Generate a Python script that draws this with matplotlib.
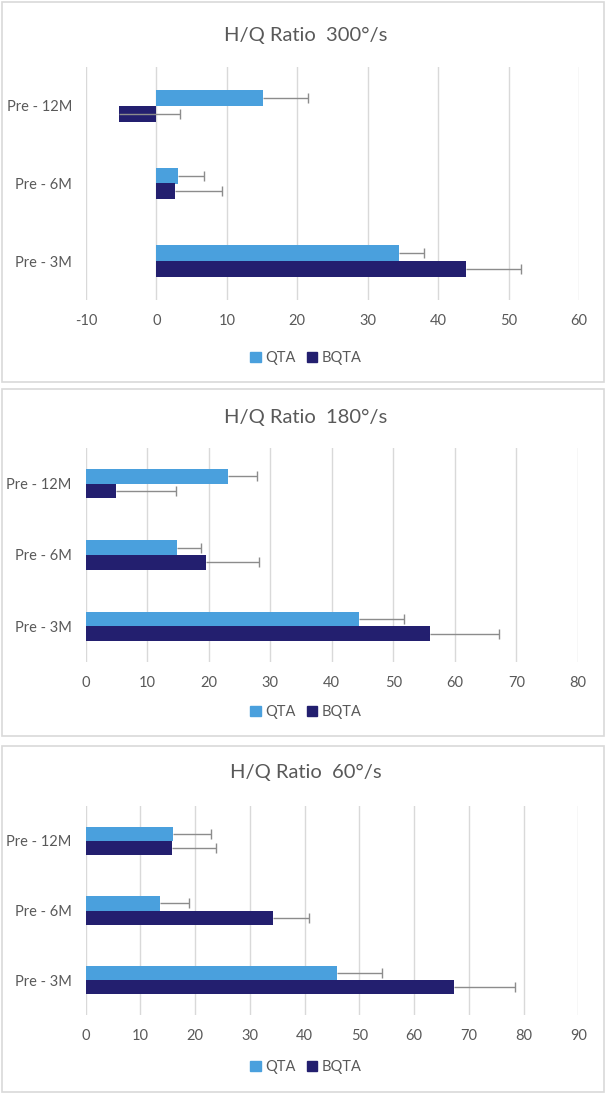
import matplotlib.pyplot as plt
from matplotlib.patches import Rectangle, Patch

# datos
categorias = ["Pre - 3M", "Pre - 6M", "Pre - 12M"]
velocidades = ["300", "180", "60"]

qta_300 = [34.4, 3.0, 15.1]
qta_300_err = [3.6, 3.8, 6.4]
bqta_300 = [44.0, 2.7, -5.3]
bqta_300_err = [7.8, 6.6, 8.6]

qta_180 = [44.4, 14.9, 23.2]
qta_180_err = [7.4, 3.9, 4.6]
bqta_180 = [56.0, 19.5, 5.0]
bqta_180_err = [11.1, 8.6, 9.7]

qta_60 = [45.9, 13.6, 16.0]
qta_60_err = [8.2, 5.3, 6.9]
bqta_60 = [67.3, 34.2, 15.8]
bqta_60_err = [11.2, 6.6, 8.0]

limites = [(-10, 60), (0, 80), (0, 90)]

plt.rcParams['font.family'] = ['Lato', 'DejaVu Sans']
plt.rcParams['axes.unicode_minus'] = False

W, H = 607, 1093
fig = plt.figure(figsize=(W / 100, H / 100), dpi=100)

c_qta = "#4aa0dd"
c_bqta = "#231f6f"
gris = "#595959"
c_err = "#8c8c8c"

# cajas de cada panel (pixeles: x0, y0, x1, y1)
cajas = [(2, 2, 604, 382), (2, 389, 604, 736), (2, 746, 604, 1092)]
# area de graficado (pixeles)
areas = [(86, 67, 579, 300), (85.6, 448, 578, 662), (85.6, 806, 578.4, 1015)]
titulos_y = [35, 417, 772]
leyenda_y = [358, 712, 1067]

datos = [
    (qta_300, qta_300_err, bqta_300, bqta_300_err),
    (qta_180, qta_180_err, bqta_180, bqta_180_err),
    (qta_60, qta_60_err, bqta_60, bqta_60_err),
]


def fx(px):
    return px / W


def fy(py):
    return 1 - py / H


def barras_error(ax, ys, vals, errs):
    # solo error positivo, sin tope en el extremo de la barra
    fin = [v + e for v, e in zip(vals, errs)]
    ax.hlines(ys, vals, fin, color=c_err, lw=1, zorder=3)
    ax.plot(fin, ys, ls="none", marker="|", markersize=7, mew=1, color=c_err, zorder=3)


for i in range(3):
    x0, y0, x1, y1 = cajas[i]
    fig.patches.append(Rectangle((fx(x0), fy(y1)), fx(x1 - x0), (y1 - y0) / H,
                                 transform=fig.transFigure, fill=False,
                                 edgecolor="#d9d9d9", lw=1.2))

    ax0, ay0, ax1, ay1 = areas[i]
    ax = fig.add_axes([fx(ax0), fy(ay1), fx(ax1 - ax0), (ay1 - ay0) / H])

    q, qe, b, be = datos[i]
    pos = list(range(len(categorias)))
    h = 0.205
    yq = [p + h / 2 for p in pos]
    yb = [p - h / 2 for p in pos]
    ax.barh(yq, q, height=h, color=c_qta, zorder=2)
    ax.barh(yb, b, height=h, color=c_bqta, zorder=2)
    barras_error(ax, yq, q, qe)
    barras_error(ax, yb, b, be)

    ax.set_xlim(*limites[i])
    ax.set_ylim(-0.5, 2.5)
    ax.set_xticks(range(limites[i][0], limites[i][1] + 1, 10))
    ax.set_yticks(pos)
    ax.set_yticklabels(categorias)
    ax.grid(axis="x", color="#d9d9d9", lw=1, zorder=0)
    ax.set_axisbelow(True)
    for s in ax.spines.values():
        s.set_visible(False)
    ax.tick_params(length=0, labelsize=10.5, labelcolor=gris)
    ax.tick_params(axis="x", pad=10)
    ax.tick_params(axis="y", pad=10)

    fig.text(fx(306), fy(titulos_y[i]), "H/Q Ratio  " + velocidades[i] + "°/s",
             ha="center", va="center", fontsize=14.5, color=gris)

    handles = [Patch(color=c_qta, label="QTA"), Patch(color=c_bqta, label="BQTA")]
    fig.legend(handles=handles, loc="center", ncol=2, frameon=False,
               bbox_to_anchor=(fx(306), fy(leyenda_y[i])), fontsize=10.5,
               handlelength=0.7, handleheight=0.7, handletextpad=0.3,
               columnspacing=0.8, labelcolor=gris)

fig.savefig("out.png", dpi=100)
